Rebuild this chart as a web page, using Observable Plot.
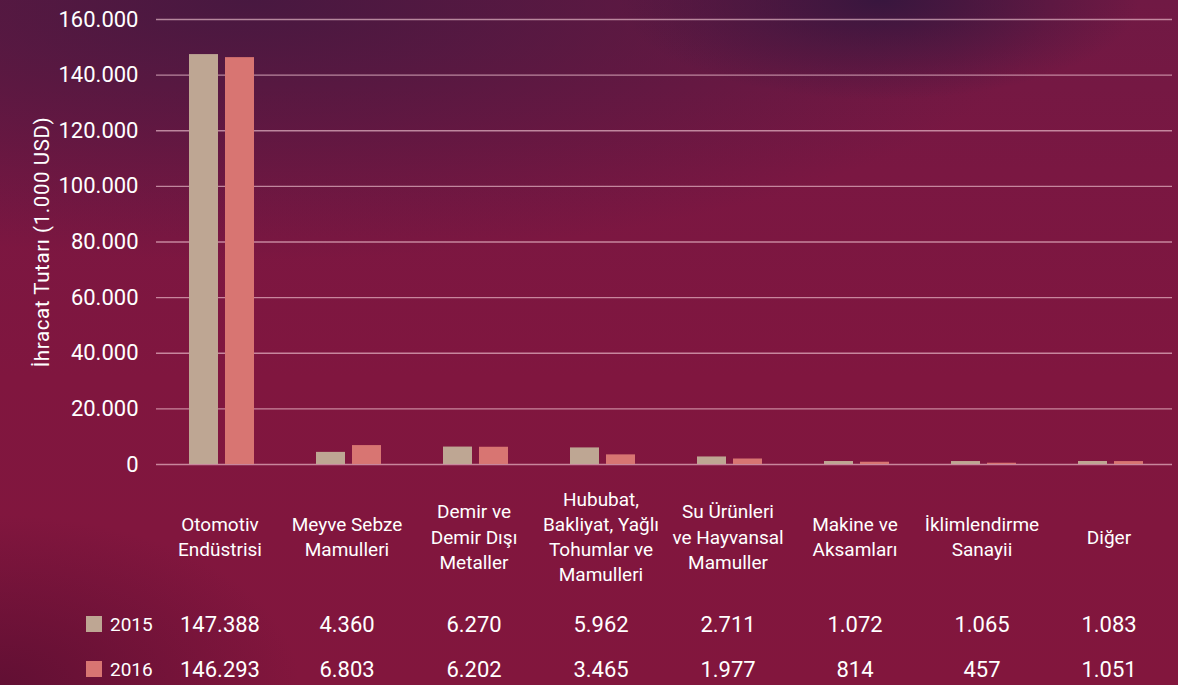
<!DOCTYPE html>
<html>
<head>
<meta charset="utf-8">
<script src="https://cdn.jsdelivr.net/npm/d3@7"></script>
<script src="https://cdn.jsdelivr.net/npm/@observablehq/plot@0.6"></script>
<style>
  html, body { margin: 0; padding: 0; }
  body { width: 1178px; height: 685px; overflow: hidden; font-family: Roboto, "Noto Sans", sans-serif; }
  #wrap {
    position: relative; width: 1178px; height: 685px;
    background:
      radial-gradient(ellipse 260px 100px at 880px 0px, rgba(56,22,62,1) 0%, rgba(56,22,62,0) 100%),
      radial-gradient(ellipse 800px 260px at 250px 0px, rgba(70,24,64,0.95) 0%, rgba(70,24,64,0) 100%),
      radial-gradient(ellipse 300px 170px at 0px 685px, rgba(92,14,50,0.85) 0%, rgba(92,14,50,0) 100%),
      linear-gradient(180deg, #701944 0%, #7a1742 25%, #80163f 55%, #82163d 100%);
  }
  #chart { position: absolute; left: 0; top: 0; }
  #legend { position: absolute; left: 0; top: 0; width: 1178px; height: 685px; pointer-events: none; }
  .lg { position: absolute; display: flex; align-items: center; color: #fff; font-size: 19px; }
  .sw { width: 16px; height: 16px; margin-right: 8px; }
</style>
</head>
<body>
<div id="wrap">
  <div id="chart"></div>
  <div id="legend"></div>
</div>
<script>
const categories = [
  "Otomotiv\nEndüstrisi",
  "Meyve Sebze\nMamulleri",
  "Demir ve\nDemir Dışı\nMetaller",
  "Hububat,\nBakliyat, Yağlı\nTohumlar ve\nMamulleri",
  "Su Ürünleri\nve Hayvansal\nMamuller",
  "Makine ve\nAksamları",
  "İklimlendirme\nSanayii",
  "Diğer"
];
const years = ["2015", "2016"];
const values2015 = [147388, 4360, 6270, 5962, 2711, 1072, 1065, 1083];
const values2016 = [146293, 6803, 6202, 3465, 1977, 814, 457, 1051];
const yTicks = [0, 20000, 40000, 60000, 80000, 100000, 120000, 140000, 160000];
const colors = ["#bea693", "#d87572"];
const yLabel = "İhracat Tutarı (1.000 USD)";

const trLocale = d3.formatLocale({decimal: ",", thousands: ".", grouping: [3], currency: ["", ""]});
const fmt = trLocale.format(",");

const rows = [];
categories.forEach((c, i) => {
  rows.push({category: c, year: years[0], value: values2015[i]});
  rows.push({category: c, year: years[1], value: values2016[i]});
});
const rows2015 = rows.filter(d => d.year === years[0]);
const rows2016 = rows.filter(d => d.year === years[1]);

const chart = Plot.plot({
  width: 1178,
  height: 685,
  marginTop: 19,
  marginBottom: 221,
  marginLeft: 155,
  marginRight: 6,
  style: {background: "transparent", color: "#fff", fontFamily: "Roboto, 'Noto Sans', sans-serif", overflow: "visible"},
  fx: {domain: categories, padding: 0, axis: null},
  x: {domain: years, axis: null, paddingInner: 0.2, paddingOuter: 0.86, align: 0.53},
  y: {domain: [0, 160000]},
  color: {domain: years, range: colors},
  marks: [
    Plot.gridY(yTicks, {stroke: "#f5ccd6", strokeOpacity: 0.62, strokeWidth: 1.3}),
    Plot.axisY(yTicks, {
      tickSize: 0, tickPadding: 18, tickFormat: fmt, fontSize: 22,
      label: yLabel, labelAnchor: "center", labelArrow: "none", labelOffset: 122
    }),
    Plot.barY(rows, {fx: "category", x: "year", y: "value", fill: "year"}),
    Plot.text(categories, {fx: d => d, text: d => d, frameAnchor: "bottom", dy: 71, lineAnchor: "middle", lineHeight: 1.32, fontSize: 19, fill: "#fff"}),
    Plot.text(rows2015, {fx: "category", text: d => fmt(d.value), frameAnchor: "bottom", dy: 160, lineAnchor: "middle", fontSize: 22, fill: "#fff"}),
    Plot.text(rows2016, {fx: "category", text: d => fmt(d.value), frameAnchor: "bottom", dy: 205, lineAnchor: "middle", fontSize: 22, fill: "#fff"})
  ]
});
chart.querySelectorAll("text").forEach(el => {
  if (el.textContent === yLabel) {
    el.style.fontSize = "20.5px";
    el.style.letterSpacing = "0.6px";
  }
});
document.getElementById("chart").appendChild(chart);

// legend for the data table rows
const legend = document.getElementById("legend");
const legendTops = [612, 657];
years.forEach((y, i) => {
  const item = document.createElement("div");
  item.className = "lg";
  item.style.left = "86px";
  item.style.top = legendTops[i] + "px";
  item.style.height = "24px";
  const sw = document.createElement("div");
  sw.className = "sw";
  sw.style.background = colors[i];
  const tx = document.createElement("span");
  tx.textContent = y;
  item.appendChild(sw);
  item.appendChild(tx);
  legend.appendChild(item);
});
</script>
</body>
</html>
